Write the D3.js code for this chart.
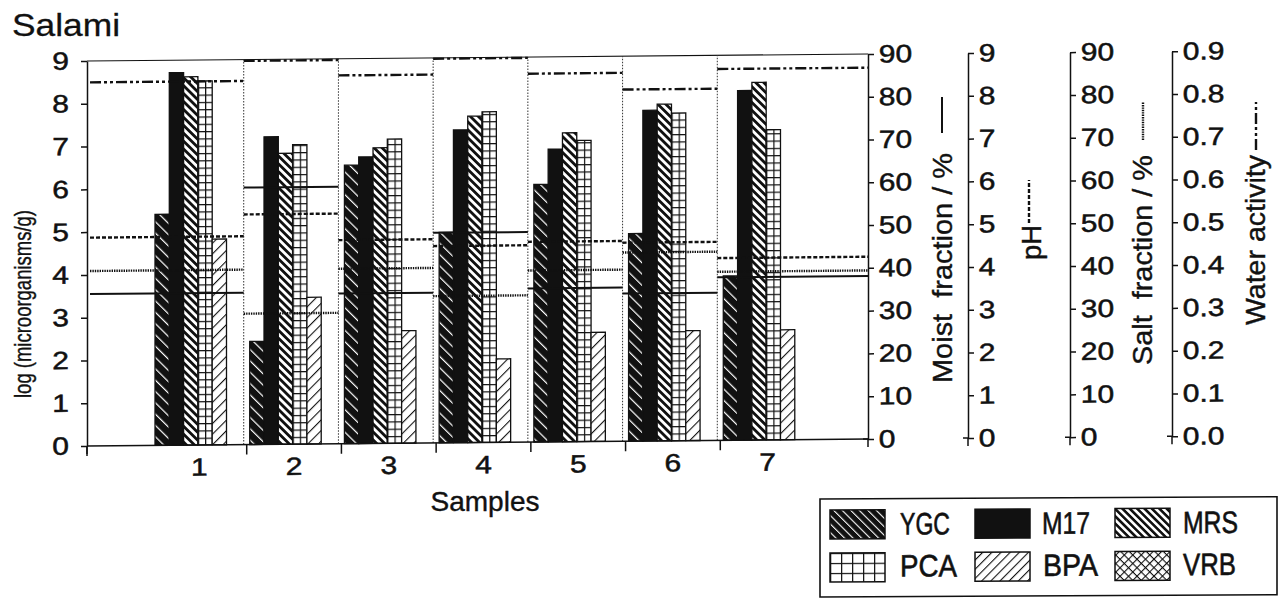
<!DOCTYPE html>
<html><head><meta charset="utf-8">
<script src="https://cdn.jsdelivr.net/npm/d3@7"></script>
<style>
html,body{margin:0;padding:0;background:#fff;}
svg{display:block;font-family:"Liberation Sans",Arial,Helvetica,sans-serif;}
</style></head><body>
<svg id="chart" width="1279" height="601"></svg>
<script>
// ---------- data ----------
const samples = ["1","2","3","4","5","6","7"];
const seriesNames = ["YGC","M17","MRS","PCA","BPA","VRB"];
const ygc = [5.40,2.41,6.51,4.92,6.02,4.85,3.84];
const m17 = [8.71,7.19,6.70,7.31,6.84,7.73,8.17];
const mrs = [8.61,6.80,6.91,7.63,7.22,7.87,8.36];
const pca = [8.51,7.00,7.11,7.73,7.04,7.66,7.25];
const bpa = [4.81,3.43,2.63,1.95,2.55,2.57,2.57];
const vrb = [0,0,0,0,0,0,0];
const moisture = [35.5,60.1,35.1,49.1,35.9,34.5,38.1];     // Moist fraction / %
const pH = [4.87,5.38,4.76,4.60,4.68,4.64,4.26];
const salt = [40.9,30.6,40.9,34.3,40.1,44.1,39.4];           // Salt fraction / %
const waterActivity = [0.850,0.897,0.861,0.898,0.861,0.822,0.868];
const logTicks = [0,1,2,3,4,5,6,7,8,9];
const moistTicks = [0,10,20,30,40,50,60,70,80,90];
const pHTicks = [0,1,2,3,4,5,6,7,8,9];
const saltTicks = [0,10,20,30,40,50,60,70,80,90];
const awTicks = [0,0.1,0.2,0.3,0.4,0.5,0.6,0.7,0.8,0.9];

// ---------- layout ----------
const INK = "#111";
const X0 = 87, X1 = 868, Y0 = 446, Y9 = 61;
const K = 0.009;           // slight skew of the scanned original
const SEP = 3;

const svg = d3.select("#chart");
const defs = svg.append("defs");

function stripe(id, period, lineW, angle, bg, fg) {
  const p = defs.append("pattern").attr("id", id).attr("patternUnits","userSpaceOnUse")
    .attr("width", period).attr("height", period).attr("patternTransform", `rotate(${angle})`);
  p.append("rect").attr("width", period).attr("height", period).attr("fill", bg);
  p.append("rect").attr("width", lineW).attr("height", period).attr("fill", fg);
}
stripe("ygc", 8, 1.2, -45, INK, "#fff");
stripe("mrs", 5.6, 2.8, -45, "#fff", INK);
stripe("bpa", 7.5, 1.1, 45, "#fff", INK);
stripe("ygcL", 6, 1.1, -45, INK, "#fff");
stripe("mrsL", 5.2, 2.6, -45, "#fff", INK);
stripe("bpaL", 6.5, 1.1, 45, "#fff", INK);
{
  const p = defs.append("pattern").attr("id","vrbL").attr("patternUnits","userSpaceOnUse")
    .attr("width",6).attr("height",6).attr("patternTransform","rotate(45)");
  p.append("rect").attr("width",6).attr("height",6).attr("fill","#fff");
  p.append("rect").attr("width",1.1).attr("height",6).attr("fill",INK);
  p.append("rect").attr("width",6).attr("height",1.1).attr("fill",INK);
}
function gridPat(id, x, y, w, h) {
  const p = defs.append("pattern").attr("id", id).attr("patternUnits","userSpaceOnUse")
    .attr("x", x).attr("y", y).attr("width", w).attr("height", h);
  p.append("rect").attr("width", w).attr("height", h).attr("fill", "#fff");
  p.append("rect").attr("width", 1.2).attr("height", h).attr("fill", INK);
  p.append("rect").attr("width", w).attr("height", 1.2).attr("fill", INK);
}

// ---------- scales ----------
const xBand = d3.scaleBand().domain(samples).range([152, 815]).padding(0);
const xSeries = d3.scaleBand().domain(seriesNames).range([3, 3 + 6*14.3]).padding(0);
const yLog = d3.scaleLinear().domain([0,9]).range([Y0, Y9]);
const yMoist = d3.scaleLinear().domain([0,90]).range([Y0, Y9]);
const yPH = d3.scaleLinear().domain([0,9]).range([Y0, Y9]);
const ySalt = d3.scaleLinear().domain([0,90]).range([Y0, Y9]);
const yAw = d3.scaleLinear().domain([0,0.9]).range([Y0, Y9]);

const g = svg.append("g").attr("transform", `matrix(1,${-K},0,1,0,${K*X0})`);

// frame top & separators
g.append("line").attr("x1",X0).attr("x2",X1).attr("y1",Y9).attr("y2",Y9)
  .attr("stroke",INK).attr("stroke-width",1.1);
g.selectAll(".sep").data(samples.slice(1)).join("line").attr("class","sep")
  .attr("x1", d => xBand(d) - SEP).attr("x2", d => xBand(d) - SEP)
  .attr("y1", Y0).attr("y2", Y9)
  .attr("stroke", "#333").attr("stroke-width", 1).attr("stroke-dasharray", "1.5,1.5");

// ---------- bars ----------
const seriesVals = {YGC: ygc, M17: m17, MRS: mrs, PCA: pca, BPA: bpa, VRB: vrb};
const fills = {YGC: "url(#ygc)", M17: INK, MRS: "url(#mrs)", BPA: "url(#bpa)", VRB: "#fff"};
const barData = [];
samples.forEach((s, i) => {
  seriesNames.forEach(n => {
    const v = seriesVals[n][i];
    if (v > 0) barData.push({s, i, n, v});
  });
});
barData.filter(d => d.n === "PCA").forEach(d => {
  gridPat("pca-" + d.i, xBand(d.s) + xSeries(d.n), Y0, xSeries.bandwidth()/2, 7.3);
});
g.selectAll(".bar").data(barData).join("rect").attr("class","bar")
  .attr("x", d => xBand(d.s) + xSeries(d.n))
  .attr("width", xSeries.bandwidth())
  .attr("y", d => yLog(d.v))
  .attr("height", d => Y0 - yLog(d.v))
  .attr("fill", d => d.n === "PCA" ? `url(#pca-${d.i})` : fills[d.n])
  .attr("stroke", INK).attr("stroke-width", 1.3);

// ---------- horizontal property lines ----------
const lineSpecs = [
  {values: moisture, scale: yMoist, dash: null, w: 2},
  {values: pH, scale: yPH, dash: "4,2", w: 2.4},
  {values: salt, scale: ySalt, dash: "1.4,1", w: 2.4},
  {values: waterActivity, scale: yAw, dash: "11,3,3,3,3,3", w: 2.4}
];
const xStart = i => i === 0 ? X0 + 3 : xBand(samples[i]) - SEP;
const xEnd = i => i === samples.length - 1 ? X1 : xBand(samples[i+1]) - SEP;
lineSpecs.forEach((spec, k) => {
  g.selectAll(".pl" + k).data(spec.values).join("line").attr("class", "pl" + k)
    .attr("x1", (d, i) => xStart(i)).attr("x2", (d, i) => xEnd(i))
    .attr("y1", d => spec.scale(d)).attr("y2", d => spec.scale(d))
    .attr("stroke", INK).attr("stroke-width", spec.w)
    .attr("stroke-dasharray", spec.dash);
});

// ---------- axes ----------
function styleAxis(sel) {
  sel.selectAll("path,line").attr("stroke", INK).attr("stroke-width", 1.5);
  sel.selectAll("text").attr("fill", INK).attr("font-size", 25)
    .attr("stroke", INK).attr("stroke-width", 0.5)
    .attr("font-family", '"Liberation Sans",Arial,sans-serif')
    .attr("transform", "scale(1.2,1)");
}
const gL = g.append("g").attr("transform", `translate(${X0},0)`)
  .call(d3.axisLeft(yLog).tickValues(logTicks).tickSize(6).tickSizeOuter(0).tickPadding(9).tickFormat(d3.format("d")));
styleAxis(gL);
gL.append("line").attr("x1",0).attr("x2",0).attr("y1",Y0).attr("y2",Y0+8).attr("stroke",INK).attr("stroke-width",1.5);

const rightAxes = [
  {x: 868, scale: yMoist, ticks: moistTicks, fmt: d3.format("d")},
  {x: 968, scale: yPH, ticks: pHTicks, fmt: d3.format("d")},
  {x: 1070, scale: ySalt, ticks: saltTicks, fmt: d3.format("d")},
  {x: 1172, scale: yAw, ticks: awTicks, fmt: d3.format(".1f")}
];
rightAxes.forEach(a => {
  const ga = g.append("g").attr("transform", `translate(${a.x},0)`)
    .call(d3.axisRight(a.scale).tickValues(a.ticks).tickSize(6).tickSizeOuter(0).tickPadding(3).tickFormat(a.fmt));
  styleAxis(ga);
  ga.append("line").attr("x1",0).attr("x2",0).attr("y1",Y0).attr("y2",Y0+8).attr("stroke",INK).attr("stroke-width",1.5);
  ga.append("line").attr("x1",-5).attr("x2",0).attr("y1",Y0).attr("y2",Y0).attr("stroke",INK).attr("stroke-width",1.5);
});

// x axis
g.append("line").attr("x1",X0).attr("x2",X1).attr("y1",Y0).attr("y2",Y0).attr("stroke",INK).attr("stroke-width",1.5);
const xTickPos = [X0].concat(samples.slice(1).map(s => xBand(s)));
g.selectAll(".xt").data(xTickPos).join("line").attr("class","xt")
  .attr("x1", d => d).attr("x2", d => d).attr("y1", Y0).attr("y2", Y0 + 10)
  .attr("stroke", INK).attr("stroke-width", 1.5);
const gX = g.append("g").attr("transform", `translate(0,${Y0})`)
  .call(d3.axisBottom(xBand).tickSize(0).tickPadding(13));
gX.select(".domain").remove();
styleAxis(gX);

// ---------- titles ----------
svg.append("text").attr("x", 12).attr("y", 36).attr("font-size", 32).attr("fill", INK)
  .attr("stroke", INK).attr("stroke-width", 0.3)
  .attr("textLength", 108).attr("lengthAdjust", "spacingAndGlyphs").text("Salami");
svg.append("text").attr("x", 485).attr("y", 511).attr("font-size", 28).attr("fill", INK)
  .attr("stroke", INK).attr("stroke-width", 0.4)
  .attr("text-anchor", "middle").text("Samples");
svg.append("text").attr("transform", "translate(31,398) rotate(-90)").attr("font-size", 24).attr("fill", INK)
  .attr("stroke", INK).attr("stroke-width", 0.4)
  .attr("textLength", 188).attr("lengthAdjust", "spacingAndGlyphs").text("log (microorganisms/g)");

const rightLabels = [
  {x: 952, y: 383, text: "Moist  fraction / %", len: 230, lx: 942, ly1: 133, ly2: 97, spec: lineSpecs[0]},
  {x: 1041, y: 260, text: "pH", len: 35, lx: 1029, ly1: 223, ly2: 180, spec: lineSpecs[1]},
  {x: 1152, y: 365, text: "Salt  fraction / %", len: 210, lx: 1143, ly1: 140, ly2: 102, spec: lineSpecs[2]},
  {x: 1265, y: 325, text: "Water activity", len: 170, lx: 1256, ly1: 150, ly2: 102, spec: lineSpecs[3]}
];
rightLabels.forEach(l => {
  svg.append("text").attr("transform", `translate(${l.x},${l.y}) rotate(-90)`)
    .attr("font-size", 28).attr("fill", INK).attr("stroke", INK).attr("stroke-width", 0.4)
    .style("white-space", "pre")
    .attr("textLength", l.len).attr("lengthAdjust", "spacingAndGlyphs").text(l.text);
  svg.append("line").attr("x1", l.lx).attr("x2", l.lx).attr("y1", l.ly1).attr("y2", l.ly2)
    .attr("stroke", INK).attr("stroke-width", l.spec.w).attr("stroke-dasharray", l.spec.dash);
});

// ---------- legend ----------
const K2 = 0.005;
const lg = svg.append("g").attr("transform", `matrix(1,${-K2},0,1,0,${K2*820})`);
lg.append("rect").attr("x", 820).attr("y", 499).attr("width", 457).attr("height", 98)
  .attr("fill", "none").attr("stroke", INK).attr("stroke-width", 1.6);
gridPat("pcaL", 830, 553, 11, 10);
const legendItems = [
  {n: "YGC", fill: "url(#ygcL)", x: 830, y: 510, tx: 900, ty: 535, len: 50},
  {n: "M17", fill: INK, x: 975, y: 510, tx: 1042, ty: 535, len: 48},
  {n: "MRS", fill: "url(#mrsL)", x: 1115, y: 510, tx: 1183, ty: 535, len: 55},
  {n: "PCA", fill: "url(#pcaL)", x: 830, y: 553, tx: 900, ty: 577, len: 57},
  {n: "BPA", fill: "url(#bpaL)", x: 975, y: 553, tx: 1043, ty: 577, len: 55},
  {n: "VRB", fill: "url(#vrbL)", x: 1115, y: 553, tx: 1183, ty: 577, len: 53}
];
const li = lg.selectAll(".li").data(legendItems).join("g").attr("class", "li");
li.append("rect").attr("x", d => d.x).attr("y", d => d.y).attr("width", 55).attr("height", 29)
  .attr("fill", d => d.fill).attr("stroke", INK).attr("stroke-width", 1.5);
li.append("text").attr("x", d => d.tx).attr("y", d => d.ty).attr("font-size", 31).attr("fill", INK)
  .attr("stroke", INK).attr("stroke-width", 0.6)
  .attr("textLength", d => d.len).attr("lengthAdjust", "spacingAndGlyphs").text(d => d.n);
</script>
</body></html>
